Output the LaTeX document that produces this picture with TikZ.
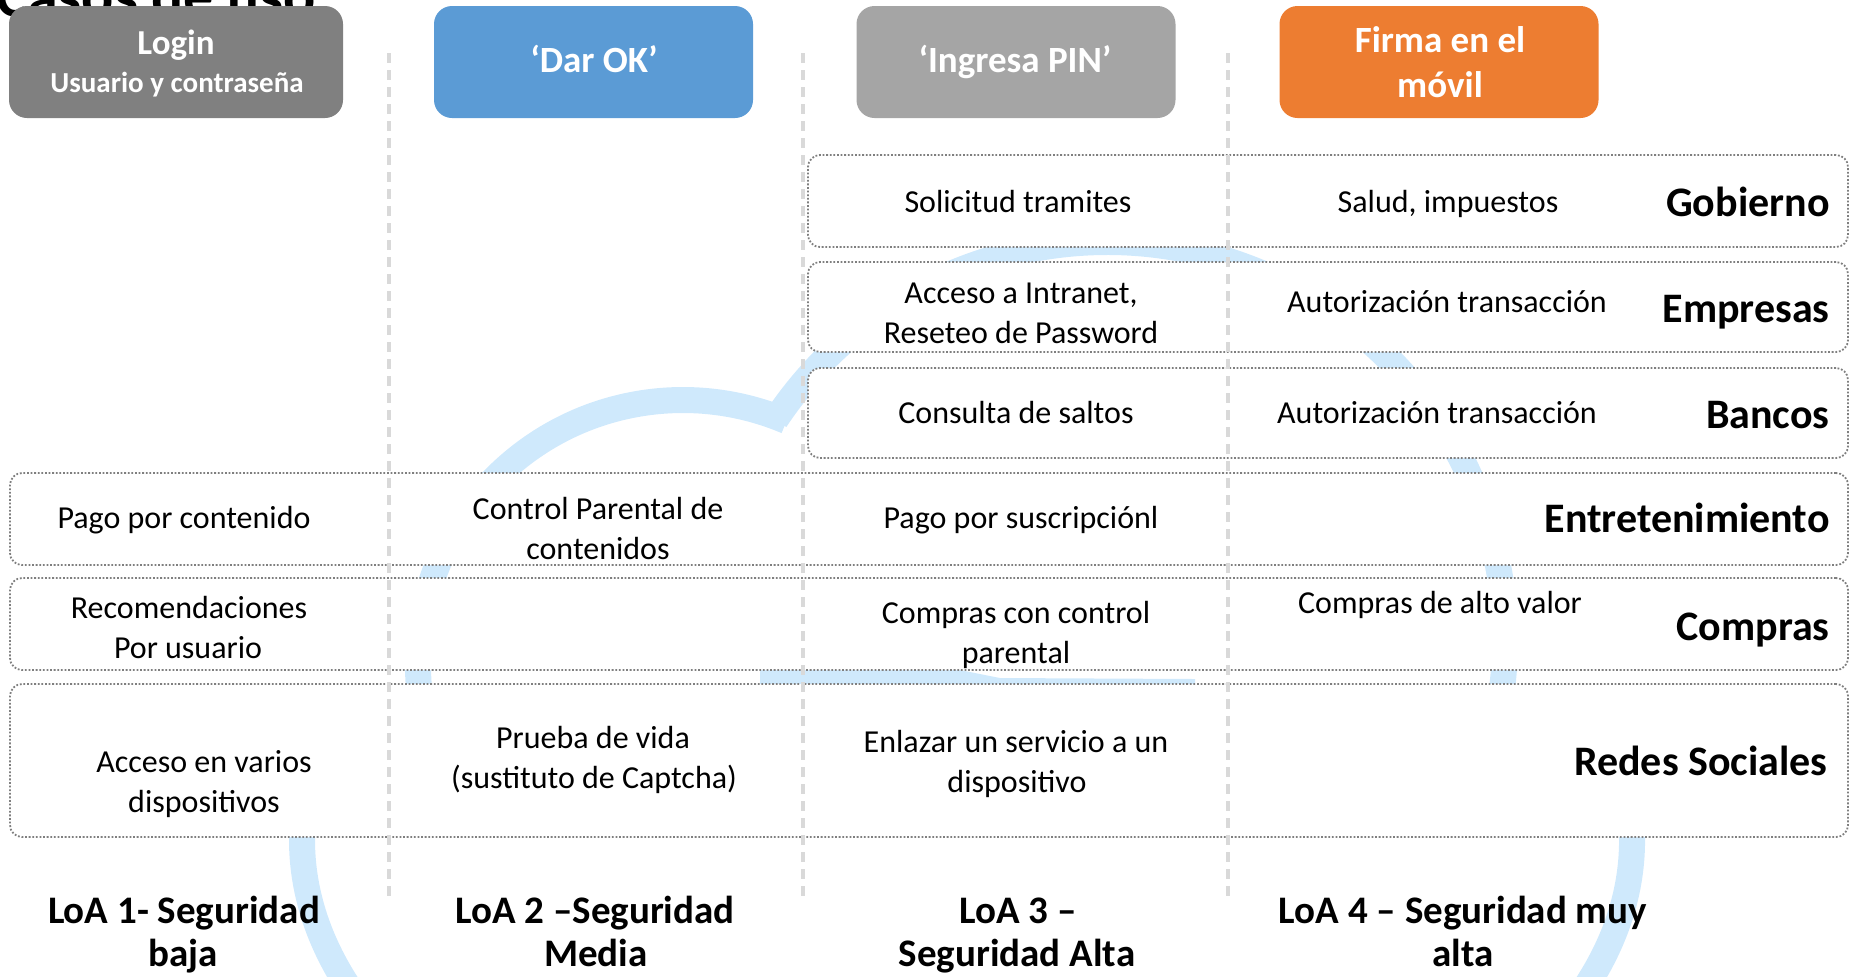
\documentclass[tikz,border=0pt]{standalone}
\usepackage{fontspec}
\setmainfont{Carlito}
\definecolor{hdrgray}{HTML}{808080}
\definecolor{hdrblue}{HTML}{5B9BD5}
\definecolor{hdrlgray}{HTML}{A5A5A5}
\definecolor{hdrorange}{HTML}{ED7D31}
\definecolor{wmblue}{HTML}{CFE9FC}
\definecolor{sepgray}{HTML}{D9D9D9}
\definecolor{rowgray}{HTML}{7F7F7F}
\begin{document}
\begin{tikzpicture}[x=0.5pt,y=-0.5pt,
  hdrbox/.style={rounded corners=9pt, inner sep=0pt, minimum width=159.5pt, minimum height=56pt},
  hdrtxt/.style={text=white, anchor=base, inner sep=0pt},
  rowbox/.style={draw=rowgray, line width=0.9pt, dash pattern=on 0.9pt off 0.9pt, fill=white, rounded corners=6pt, inner sep=0pt},
  cell/.style={anchor=base, inner sep=0pt, font=\fontsize{16}{19}\selectfont},
  cat/.style={anchor=base east, inner sep=0pt, font=\fontsize{21}{25}\selectfont\bfseries},
  loa/.style={anchor=base, inner sep=0pt, font=\fontsize{19.5}{23}\selectfont\bfseries},
  sep/.style={draw=sepgray, line width=1.6pt, dash pattern=on 5pt off 3.5pt},
  wm/.style={draw=wmblue, line width=13pt}
]
\useasboundingbox (0,0) rectangle (1850,976);
\clip (0,0) rectangle (1850,976);

% cut-off title
\node[anchor=base west, inner sep=0pt, font=\fontsize{30}{36}\selectfont\bfseries] (title) at (-4,16) {Casos de uso};

% header boxes
\node[hdrbox, fill=hdrgray, minimum width=167pt] (login) at (176,62) {};
\node[hdrbox, fill=hdrblue] (darok) at (593.5,62) {};
\node[hdrbox, fill=hdrlgray] (pin) at (1016,62) {};
\node[hdrbox, fill=hdrorange] (firma) at (1439,62) {};

% watermark
\draw[wm] (683,665) ++(172:265) arc[start angle=172, end angle=293, radius=265];
\draw[wm] (1107,640) ++(213.6:398) arc[start angle=213.6, end angle=370, radius=398];
\fill[wmblue] (760,667) -- (955,669) -- (1000,678) -- (1195,679) -- (1195,700) -- (760,700) -- cycle;
\draw[wm] (967,840) ++(-5:665 and 400) arc[start angle=-5, end angle=185, x radius=665, y radius=400];

% rows
\node[rowbox, minimum width=520pt, minimum height=46pt] (rgob) at (1328,201) {};
\node[rowbox, minimum width=520pt, minimum height=45pt] (remp) at (1328,307) {};
\node[rowbox, minimum width=520pt, minimum height=45pt] (rban) at (1328,413) {};
\node[rowbox, minimum width=919pt, minimum height=46pt] (rent) at (929,519) {};
\node[rowbox, minimum width=919pt, minimum height=46pt] (rcom) at (929,624) {};
\node[rowbox, minimum width=919pt, minimum height=76.5pt] (rred) at (929,760.5) {};

% column separators
\coordinate (s1t) at (389,53); \coordinate (s1b) at (389,900);
\coordinate (s2t) at (803,53); \coordinate (s2b) at (803,900);
\coordinate (s3t) at (1228,53); \coordinate (s3b) at (1228,900);
\draw[sep] (s1t) -- (s1b);
\draw[sep] (s2t) -- (s2b);
\draw[sep] (s3t) -- (s3b);

% header texts
\node[hdrtxt, font=\fontsize{17.5}{21}\selectfont\bfseries] (tlogin) at (176,54) {Login};
\node[hdrtxt, font=\fontsize{14.5}{17}\selectfont\bfseries] (tusr) at (177,92) {Usuario y contraseña};
\node[hdrtxt, font=\fontsize{18.5}{22}\selectfont\bfseries] (tdar) at (594,72) {‘Dar OK’};
\node[hdrtxt, font=\fontsize{18.5}{22}\selectfont\bfseries] (tpin) at (1015,72) {‘Ingresa PIN’};
\node[hdrtxt, font=\fontsize{18.5}{22}\selectfont\bfseries] (tfir1) at (1440,52) {Firma en el};
\node[hdrtxt, font=\fontsize{18.5}{22}\selectfont\bfseries] (tfir2) at (1440,97) {móvil};

% Gobierno
\node[cell] (csol) at (1018,212) {Solicitud tramites};
\node[cell] (csal) at (1448,212) {Salud, impuestos};
\node[cat] (kgob) at (1830,216) {Gobierno};
% Empresas
\node[cell] (cacc1) at (1021,303) {Acceso a Intranet,};
\node[cell] (cacc2) at (1021,343) {Reseteo de Password};
\node[cell] (caut1) at (1447,312) {Autorización transacción};
\node[cat] (kemp) at (1830,322) {Empresas};
% Bancos
\node[cell] (ccon) at (1016,423) {Consulta de saltos};
\node[cell] (caut2) at (1437,423) {Autorización transacción};
\node[cat] (kban) at (1830,428) {Bancos};
% Entretenimiento
\node[cell] (cpag) at (184,528) {Pago por contenido};
\node[cell] (cctl1) at (598,519) {Control Parental de};
\node[cell] (cctl2) at (598,559) {contenidos};
\node[cell] (csus) at (1021,528) {Pago por suscripciónl};
\node[cat] (kent) at (1830,532) {Entretenimiento};
% Compras
\node[cell] (crec1) at (189,618) {Recomendaciones};
\node[cell] (crec2) at (188,658) {Por usuario};
\node[cell] (ccc1) at (1016,623) {Compras con control};
\node[cell] (ccc2) at (1016,663) {parental};
\node[cell] (calt) at (1440,613) {Compras de alto valor};
\node[cat] (kcom) at (1830,640) {Compras};
% Redes Sociales
\node[cell] (cav1) at (204,772) {Acceso en varios};
\node[cell] (cav2) at (204,812) {dispositivos};
\node[cell] (cpv1) at (593,748) {Prueba de vida};
\node[cell] (cpv2) at (594,788) {(sustituto de Captcha)};
\node[cell] (cen1) at (1016,752) {Enlazar un servicio a un};
\node[cell] (cen2) at (1017,792) {dispositivo};
\node[cat] (kred) at (1828,775) {Redes Sociales};

% LoA labels
\node[loa] (l1a) at (184,923) {LoA 1- Seguridad};
\node[loa] (l1b) at (183,966) {baja};
\node[loa] (l2a) at (595,923) {LoA 2 –Seguridad};
\node[loa] (l2b) at (596,966) {Media};
\node[loa] (l3a) at (1018,923) {LoA 3 –};
\node[loa] (l3b) at (1017,966) {Seguridad Alta};
\node[loa] (l4a) at (1463,923) {LoA 4 – Seguridad muy};
\node[loa] (l4b) at (1463,966) {alta};
\end{tikzpicture}
\end{document}
